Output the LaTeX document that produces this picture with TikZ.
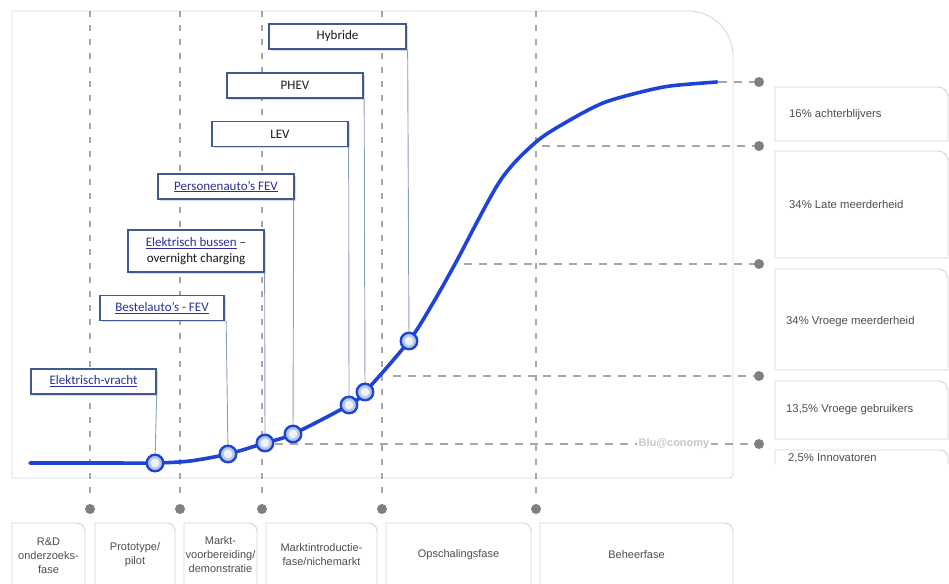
\documentclass[tikz,border=0pt]{standalone}
\usepackage{fontspec}
\setmainfont{Liberation Sans}
\newfontfamily\carl{Carlito}
\usetikzlibrary{shadows}
\definecolor{curveblue}{HTML}{1E44D6}
\definecolor{lblborder}{HTML}{3E5B8C}
\definecolor{linkc}{HTML}{2B2F96}
\definecolor{connc}{HTML}{8D9DB8}
\definecolor{guidec}{HTML}{A6A6A6}
\definecolor{gdotc}{HTML}{7F7F7F}
\definecolor{framec}{HTML}{D9D9D9}
\definecolor{boxc}{HTML}{D4D4D4}
\definecolor{boxtext}{HTML}{4D4D4D}
\definecolor{wmc}{HTML}{C8C8C8}
\definecolor{ringc}{HTML}{B7C9E6}
\definecolor{corec}{HTML}{EEF2F8}
\newcommand{\tabbox}[5]{% x1 y1 x2 y2 r : rectangle with rounded top-right corner
  \draw[boxline] (#1,#4) -- (#1,#2) -- ({#3-#5},#2) arc[start angle=90,end angle=0,radius=#5pt] -- (#3,#4) -- cycle;}
\newcommand{\opentab}[5]{%
  \draw[boxline] (#1,#4) -- (#1,#2) -- ({#3-#5},#2) arc[start angle=90,end angle=0,radius=#5pt] -- (#3,#4);}
\tikzset{
  boxline/.style={draw=boxc, line width=0.9pt},
  vguide/.style={draw=guidec, line width=1.1pt, dash pattern=on 6pt off 8pt},
  hguide/.style={draw=guidec, line width=1.1pt, dash pattern=on 8pt off 7pt},
  gdot/.style={circle, fill=gdotc, inner sep=0pt, minimum size=10pt},
  conn/.style={draw=connc, line width=0.9pt},
  curveline/.style={draw=curveblue, line width=3.6pt, line cap=round},
  bdot/.style={circle, draw=curveblue, line width=2.4pt, fill=ringc, inner sep=0pt, minimum size=16.5pt,
    path picture={\fill[corec] (path picture bounding box.center) circle[radius=4.4pt];}},
  lbl/.style={draw=lblborder, line width=1.3pt, fill=white, inner sep=0pt, minimum height=25pt,
    font=\carl\fontsize{13}{15.5}\selectfont, text=black!90,
    drop shadow={shadow xshift=1.6pt, shadow yshift=-1.8pt, opacity=0.35, fill=black!40}},
  rtext/.style={anchor=west, inner sep=0pt, font=\fontsize{11.3}{13}\selectfont, text=boxtext},
  btext/.style={align=center, inner sep=0pt, font=\fontsize{11}{14}\selectfont, text=boxtext},
}
\newcommand{\lnk}[1]{\textcolor{linkc}{\underline{#1}}}
\begin{document}
\begin{tikzpicture}[x=1pt,y=-1pt]
\useasboundingbox (0,0) rectangle (949,583);
\clip (0,0) rectangle (949,583);
% main frame
\draw[draw=framec, line width=0.9pt] (12,478) -- (12,11) -- (688,11) arc[start angle=90,end angle=0,radius=45pt] -- (733,474) arc[start angle=0,end angle=-90,radius=4pt] -- cycle;
% phase guide lines with dots
\node[gdot] (p1) at (90,509) {};
\node[gdot] (p2) at (180,509) {};
\node[gdot] (p3) at (262,509) {};
\node[gdot] (p4) at (382,509) {};
\node[gdot] (p5) at (536,509) {};
\coordinate (t1) at (90,11);
\coordinate (t2) at (180,11);
\coordinate (t3) at (262,11);
\coordinate (t4) at (382,11);
\coordinate (t5) at (536,11);
\draw[vguide] (t1) -- (90,498);
\draw[vguide] (t2) -- (180,498);
\draw[vguide] (t3) -- (262,498);
\draw[vguide] (t4) -- (382,498);
\draw[vguide] (t5) -- (536,498);
% adoption guide lines with dots
\node[gdot] (r1) at (759,82) {};
\node[gdot] (r2) at (759,146) {};
\node[gdot] (r3) at (759,264) {};
\node[gdot] (r4) at (759,376) {};
\node[gdot] (r5) at (759,444) {};
\coordinate (s1) at (719,82);
\coordinate (s2) at (542,146);
\coordinate (s3) at (464,264);
\coordinate (s4) at (393,376);
\coordinate (s5) at (275,444);
\draw[hguide] (s1) -- (r1.west);
\draw[hguide] (s2) -- (r2.west);
\draw[hguide] (s3) -- (r3.west);
\draw[hguide] (s4) -- (r4.west);
\draw[hguide] (s5) -- (r5.west);
\node[fill=white, inner sep=1.5pt, text=wmc, font=\fontsize{11}{12}\selectfont\bfseries] (wm) at (674,444) {Blu@conomy};
% right side boxes
\tabbox{775}{87}{948}{141}{10}
\tabbox{775}{151}{948}{258}{10}
\tabbox{775}{269}{948}{370}{10}
\tabbox{775}{381}{948}{439}{10}
\opentab{775}{450}{948}{464}{8}
\node[rtext] (a1) at (789,115) {16\% achterblijvers};
\node[rtext] (a2) at (789,204) {34\% Late meerderheid};
\node[rtext] (a3) at (786,322) {34\% Vroege meerderheid};
\node[rtext] (a4) at (786,410) {13,5\% Vroege gebruikers};
\node[rtext] (a5) at (788,458) {2,5\% Innovatoren};
% bottom phase boxes
\tabbox{12}{523}{85}{600}{8}
\tabbox{95}{523}{175}{600}{8}
\tabbox{184}{523}{257}{600}{8}
\tabbox{266}{523}{377}{600}{8}
\tabbox{386}{523}{531}{600}{8}
\tabbox{540}{523}{733}{600}{8}
\node[btext] (f1) at (48.5,556) {R\&D\\onderzoeks-\\fase};
\node[btext] (f2) at (135,555) {Prototype/\\pilot};
\node[btext] (f3) at (220.5,555) {Markt-\\voorbereiding/\\demonstratie};
\node[btext] (f4) at (321.5,555) {Marktintroductie-\\fase/nichemarkt};
\node[btext] (f5) at (458.5,555) {Opschalingsfase};
\node[btext] (f6) at (636.5,555) {Beheerfase};
% marker positions
\coordinate (m1) at (155,463);
\coordinate (m2) at (228,454);
\coordinate (m3) at (265,443);
\coordinate (m4) at (293,434);
\coordinate (m5) at (349,405);
\coordinate (m6) at (365,392);
\coordinate (m7) at (409,341);
% S-curve
\draw[curveline] plot[smooth, tension=0.5] coordinates {(30,463) (110,463) (155,463) (190,461) (228,454) (265,443) (293,434) (349,405) (365,392) (409,341) (433,303) (455,264) (500,181) (536,142) (570,120) (603,103) (637,93) (670,86) (717,82)};
% label boxes
\node[lbl, minimum width=137pt] (l7) at (337.5,36.5) {Hybride};
\node[lbl, minimum width=136pt] (l6) at (295,85.5) {PHEV};
\node[lbl, minimum width=136pt] (l5) at (280,134) {LEV};
\node[lbl, minimum width=136pt] (l4) at (226,186.5) {\lnk{Personenauto’s FEV}};
\node[lbl, minimum width=136pt, minimum height=42pt, align=center] (l3) at (196,251) {\lnk{Elektrisch bussen} –\\overnight charging};
\node[lbl, minimum width=124pt] (l2) at (162,308) {\lnk{Bestelauto’s - FEV}};
\node[lbl, minimum width=125pt] (l1) at (93.5,381.5) {\lnk{Elektrisch-vracht}};
% connectors
\draw[conn] (l1.south east) -- (m1);
\draw[conn] ([xshift=1.5pt]l2.south east) -- (m2);
\draw[conn] (l3.south east) -- (m3);
\draw[conn] ([xshift=-1pt]l4.south east) -- (m4);
\draw[conn] (l5.south east) -- (m5);
\draw[conn] ([xshift=0.5pt]l6.south east) -- (m6);
\draw[conn] ([xshift=1pt]l7.south east) -- (m7);
% curve markers
\node[bdot] (c1) at (m1) {};
\node[bdot] (c2) at (m2) {};
\node[bdot] (c3) at (m3) {};
\node[bdot] (c4) at (m4) {};
\node[bdot] (c5) at (m5) {};
\node[bdot] (c6) at (m6) {};
\node[bdot] (c7) at (m7) {};
\end{tikzpicture}
\end{document}
